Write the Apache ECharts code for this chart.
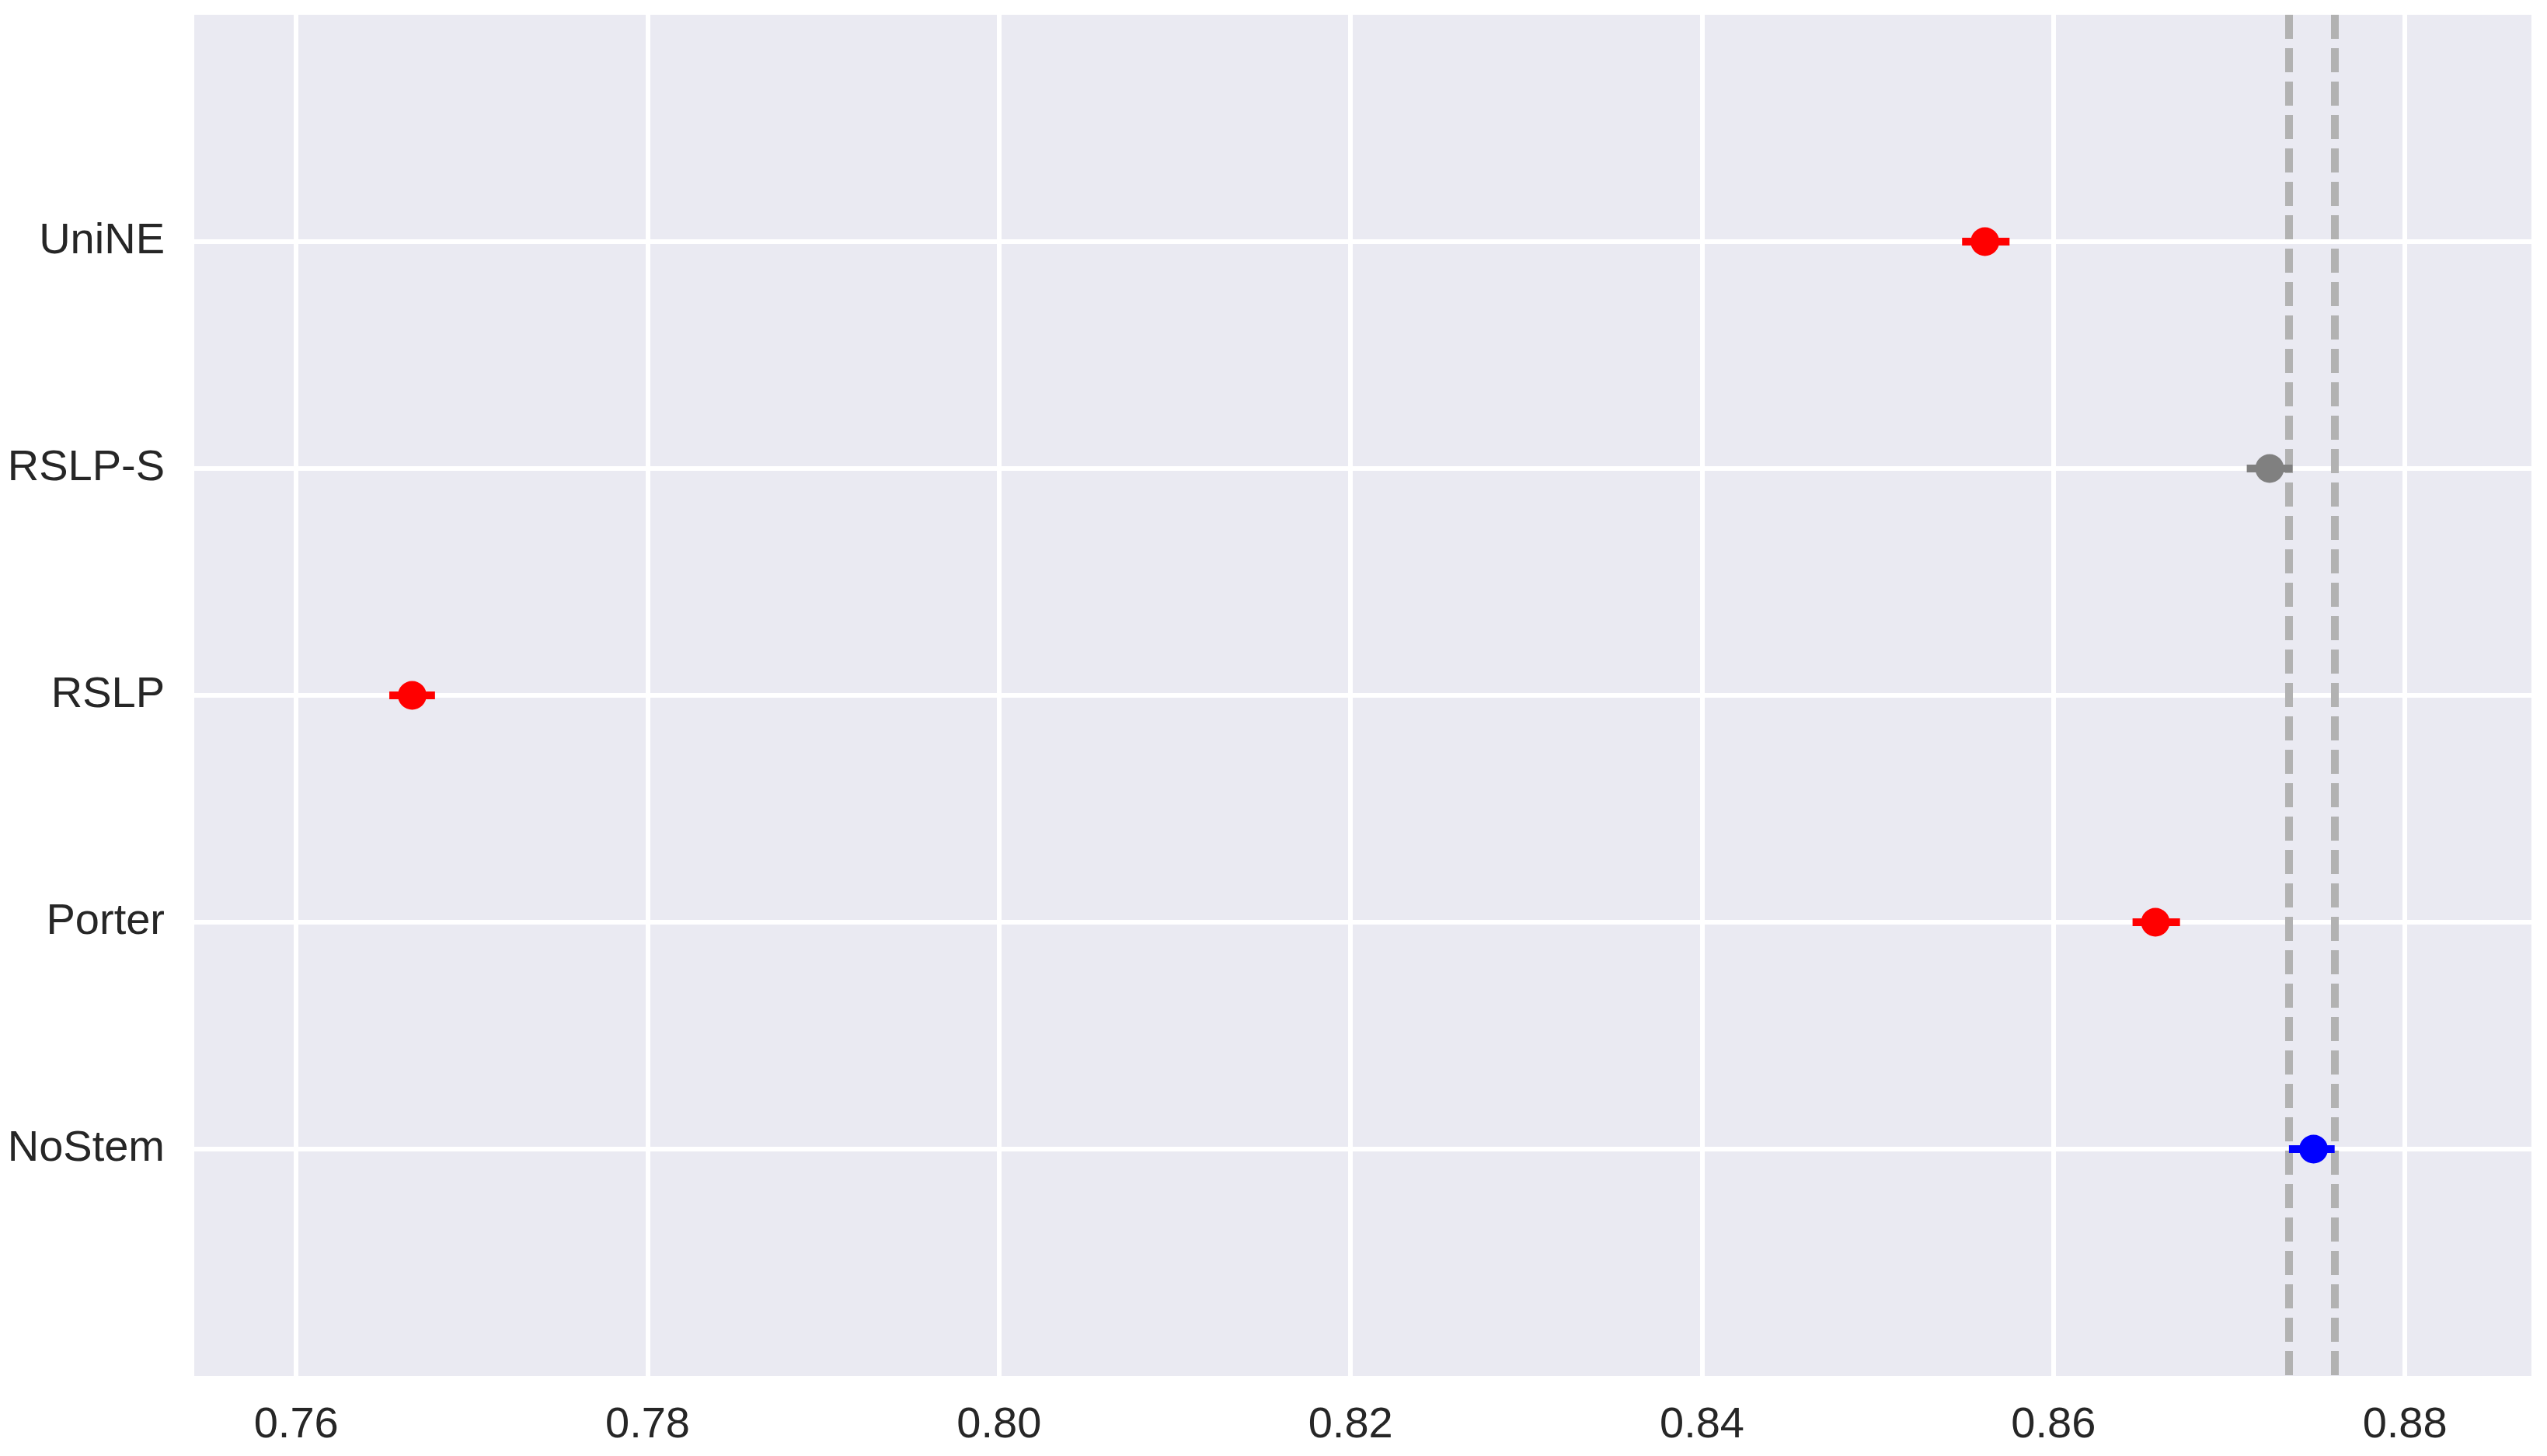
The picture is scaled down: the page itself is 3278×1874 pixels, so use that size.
<!DOCTYPE html>
<html>
<head>
<meta charset="utf-8">
<script src="https://cdn.jsdelivr.net/npm/echarts@6/dist/echarts.min.js"></script>
<style>
  html, body { margin: 0; padding: 0; background: #fff; }
  #chart { width: 3278px; height: 1874px; }
</style>
</head>
<body>
<div id="chart"></div>
<script>
const categories = ['UniNE', 'RSLP-S', 'RSLP', 'Porter', 'NoStem'];
const means = [0.8561, 0.8723, 0.7666, 0.8658, 0.8748];
const lows = [0.8548, 0.8710, 0.7653, 0.8645, 0.8734];
const highs = [0.8575, 0.8736, 0.7679, 0.8672, 0.8760];
const pointColors = ['#ff0000', '#808080', '#ff0000', '#ff0000', '#0000ff'];
const xTicks = [0.76, 0.78, 0.80, 0.82, 0.84, 0.86, 0.88];
const refLines = [0.8734, 0.8760];

const chart = echarts.init(document.getElementById('chart'));

const option = {
    animation: false,
    backgroundColor: '#ffffff',
    grid: { left: 250, right: 20, top: 19, bottom: 103, show: true, backgroundColor: '#eaeaf2', borderWidth: 0 },
    xAxis: {
        type: 'value',
        min: 0.7542,
        max: 0.8872,
        axisLine: { show: false },
        axisTick: { show: false, customValues: xTicks },
        axisLabel: {
            customValues: xTicks,
            formatter: v => v.toFixed(2),
            color: '#262626',
            fontSize: 56,
            fontFamily: 'Liberation Sans, Arial, sans-serif',
            margin: 36
        },
        splitLine: { show: true, lineStyle: { color: '#ffffff', width: 6 } }
    },
    yAxis: {
        type: 'value',
        inverse: true,
        min: -1,
        max: 5,
        interval: 1,
        axisLine: { show: false },
        axisTick: { show: false },
        axisLabel: {
            formatter: v => categories[v] !== undefined ? categories[v] : '',
            color: '#262626',
            fontSize: 56,
            fontFamily: 'Liberation Sans, Arial, sans-serif',
            margin: 38,
            showMinLabel: false,
            showMaxLabel: false
        },
        splitLine: { show: true, showMinLine: false, showMaxLine: false, lineStyle: { color: '#ffffff', width: 6 } }
    },
    series: [
        {
            // dashed reference lines (NoStem interval)
            type: 'scatter',
            z: 3,
            data: [],
            markLine: {
                silent: true,
                symbol: 'none',
                precision: 4,
                label: { show: false },
                lineStyle: { color: '#b2b2b2', width: 10, type: [31, 12] },
                data: refLines.map(v => ({ xAxis: v }))
            }
        },
        {
            type: 'custom',
            z: 5,
            data: lows.map((l, i) => [l, highs[i], i]),
            encode: { x: [0, 1], y: 2 },
            renderItem: (params, api) => {
                const i = api.value(2);
                const a = api.coord([api.value(0), i]);
                const b = api.coord([api.value(1), i]);
                return {
                    type: 'line',
                    shape: { x1: a[0], y1: a[1], x2: b[0], y2: b[1] },
                    style: { stroke: pointColors[i], lineWidth: 10 }
                };
            }
        },
        {
            type: 'scatter',
            z: 6,
            symbol: 'circle',
            symbolSize: 37,
            data: means.map((m, i) => [m, i]),
            itemStyle: { color: p => pointColors[p.dataIndex], opacity: 1 }
        }
    ]
};

chart.setOption(option);
window.addEventListener('resize', () => chart.resize());
</script>
</body>
</html>
